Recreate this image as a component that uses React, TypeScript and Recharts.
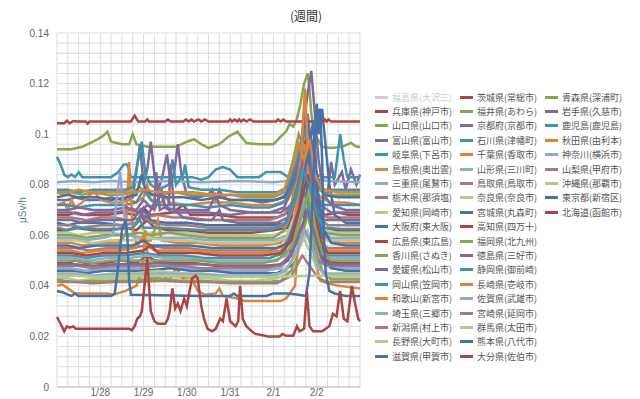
import React from 'react';
import { LineChart, Line, XAxis, YAxis, CartesianGrid } from 'recharts';

// values in 1/1000 μSv/h, x in hours from 1/27 00:00
const prefNames = [
  '福島県(大沢三)', '兵庫県(神戸市)', '山口県(山口市)', '富山県(富山市)', '岐阜県(下呂市)', '島根県(奥出雲)',
  '三重県(尾鷲市)', '栃木県(那須塩)', '愛知県(岡崎市)', '大阪府(東大阪)', '広島県(東広島)', '香川県(さぬき)',
  '愛媛県(松山市)', '岡山県(笠岡市)', '和歌山(新宮市)', '埼玉県(三郷市)', '新潟県(村上市)', '長野県(大町市)',
  '滋賀県(甲賀市)', '茨城県(常総市)', '福井県(あわら)', '京都府(京都市)', '石川県(津幡町)', '千葉県(香取市)',
  '山形県(三川町)', '鳥取県(鳥取市)', '奈良県(奈良市)', '宮城県(丸森町)', '高知県(四万十)', '福岡県(北九州)',
  '徳島県(三好市)', '静岡県(御前崎)', '長崎県(壱岐市)', '佐賀県(武雄市)', '宮崎県(延岡市)', '群馬県(太田市)',
  '熊本県(八代市)', '大分県(佐伯市)', '青森県(深浦町)', '岩手県(久慈市)', '鹿児島(鹿児島)', '秋田県(由利本)',
  '神奈川(横浜市)', '山梨県(甲府市)', '沖縄県(那覇市)', '東京都(新宿区)', '北海道(函館市)',
];

const dayHours = [24, 48, 72, 96, 120, 144];
const dayLabels = ['1/28', '1/29', '1/30', '1/31', '2/1', '2/2'];

const hyogo = [[0,68],[6,68],[10,69],[16,68],[28,68],[36,69],[44,68],[48,71],[52,68],[64,69],[70,72],[74,68],[90,68],[100,67],[112,67],[122,67],[128,69],[133,78],[137,92],[140,84],[144,72],[148,68],[156,69],[162,68],[168,68]];
const yamaguchi = [[0,94],[8,94],[14,95],[20,97],[25,99],[28,101],[30,97],[36,96],[40,96],[42,100],[44,96],[50,95],[60,95],[66,95],[72,97],[76,98],[80,96],[84,94.5],[90,96],[95,99],[100,101],[105,96.5],[112,96],[120,96],[124,99],[127,101],[129,104],[131,103],[133,106],[135,112],[137,120],[139,124],[140,118],[141,108],[143,100],[147,95],[152,94.5],[158,95],[163,96.5],[166,95],[168,95]];
const toyama = [[0,74],[6,74],[10,75],[16,74],[24,74],[30,75],[36,74],[42,75],[44,85],[46,96],[48,80],[50,86],[52,97],[54,84],[56,78],[58,82],[61,92],[63,80],[65,85],[67,96],[69,84],[72,76],[78,75],[84,76],[86,78],[88,74],[90,78],[92,75],[96,74],[106,74],[114,73],[122,74],[127,76],[132,86],[136,98],[139,108],[142,90],[146,78],[150,76],[152,89],[154,80],[158,85],[160,78],[163,86],[166,80],[168,84]];
const gifu = [[0,91],[2,88],[4,84],[6,83],[8,84],[10,83],[12,85],[14,83],[30,83],[34,85],[37,88],[39,88],[41,83],[60,83],[75,83],[80,82],[84,83],[88,86],[92,87],[96,86],[100,83],[112,83],[116,85],[124,85],[128,83],[133,87],[137,95],[140,90],[144,84],[148,83],[154,83],[157,100],[159,90],[161,83],[168,83]];
const shimane = [[0,72],[4,73],[6,70],[8,74],[10,71],[14,73],[18,76],[21,77],[24,74],[30,73],[36,73],[40,74],[44,73],[48,75],[50,80],[52,74],[58,73],[60,76],[62,73],[72,72],[84,73],[96,73],[108,72],[120,72],[128,74],[133,82],[137,102],[139,96],[142,80],[146,75],[152,73],[160,73],[168,72]];
const mie = [[0,81],[10,81.5],[20,81],[30,81.5],[44,81],[60,81.5],[80,81],[100,81.5],[120,81],[128,81.5],[134,88],[138,98],[141,90],[145,82],[150,81.5],[168,81]];
const tochigi = [[0,67],[8,67],[16,66],[24,67],[32,67],[40,66],[48,67],[56,68],[64,67],[72,67],[84,66],[96,66],[108,66],[118,66],[126,68],[132,75],[137,88],[140,80],[144,70],[150,67],[158,67],[168,67]];
const aichi = [[0,61],[6,61],[12,60],[20,61],[30,61],[40,60],[46,63],[50,61],[60,61],[72,61],[84,60],[96,60],[108,60],[120,60],[128,62],[134,72],[138,82],[142,70],[146,62],[156,61],[168,61]];
const osaka = [[0,65],[6,64],[12,65],[24,65],[36,64],[44,65],[48,70],[52,66],[60,65],[72,65],[84,64],[96,64],[108,64],[120,64],[128,65],[134,70],[140,82],[143,100],[145,110],[146,104],[147,110],[149,95],[151,80],[154,68],[160,65],[168,65]];
const hiroshima = [[0,62],[5,62],[10,63],[20,62],[30,62],[38,63],[44,62],[50,66],[54,63],[62,62],[72,62],[84,61],[96,61],[108,61],[120,62],[128,63],[133,76],[136,90],[139,102],[141,88],[144,70],[148,63],[156,62],[168,62]];
const kagawa = [[0,77],[4,76],[8,77],[14,76],[20,77],[28,76],[36,76],[42,77],[46,79],[50,76],[58,76],[66,77],[72,76],[80,76],[88,75],[96,76],[104,75],[112,75],[120,75],[126,77],[131,90],[134,100],[136,96],[138,104],[141,90],[145,78],[150,76],[158,76],[168,76]];
const ehime = [[0,69],[8,69],[14,68],[22,69],[32,69],[40,70],[46,69],[50,72],[54,70],[58,78],[60,71],[64,69],[72,69],[84,69],[96,68],[106,69],[116,69],[124,69],[130,72],[135,84],[139,94],[142,82],[146,72],[152,69],[160,69],[168,69]];
const okayama = [[0,72],[6,72],[12,71],[20,72],[30,72],[38,72],[44,73],[48,78],[52,74],[56,72],[66,72],[74,72],[84,71],[96,72],[108,71],[118,71],[126,73],[132,84],[136,96],[139,88],[143,76],[148,72],[158,72],[168,72]];
const wakayama = [[0,57],[8,57],[14,56],[24,57],[34,57],[38,60],[40,89],[42,62],[44,57],[52,58],[56,66],[58,58],[66,57],[78,57],[90,56],[102,56],[114,56],[124,57],[130,62],[134,76],[137,96],[140,84],[144,64],[150,58],[158,57],[168,57]];
const saitama = [[0,47],[8,47],[16,46],[26,47],[38,47],[48,47],[58,48],[68,47],[80,47],[92,46],[104,46],[116,46],[124,47],[130,52],[135,66],[139,76],[143,62],[147,50],[152,47],[160,47],[168,47]];
const niigata = [[0,55],[10,55],[18,54],[28,55],[40,55],[50,56],[60,55],[72,55],[84,54],[96,54],[108,54],[118,54],[126,56],[132,66],[137,80],[141,70],[145,58],[150,55],[160,55],[168,55]];
const nagano = [[0,43],[6,43],[12,42],[22,43],[34,43],[46,43],[58,44],[70,43],[84,43],[96,42],[110,42],[122,43],[130,46],[135,56],[139,62],[143,52],[147,45],[154,43],[168,43]];
const shiga = [[0,75],[6,76],[12,75],[22,75],[30,74],[38,75],[44,76],[47,84],[49,78],[53,76],[60,75],[70,75],[80,74],[90,75],[96,74],[108,74],[120,74],[126,75],[131,82],[135,94],[138,104],[141,98],[144,84],[148,76],[156,75],[168,75]];
const ibaraki = [[0,104.3],[4,104.3],[5.5,105.3],[7,104.3],[9,105.2],[11,105],[16,105],[17,104.2],[18,105],[41,105],[43,107.3],[45,105],[49,105],[50,105.8],[51,105],[60,105],[61.5,105.8],[63,105],[70,105],[71.5,105.8],[73,105],[74.5,105.8],[76,105],[78.5,105.8],[80,105],[82,105.8],[84,105],[95,105],[96,105.8],[97,105],[98.5,105.8],[100,105],[101,105.8],[102,105],[103.5,105.8],[105,105],[107,105.8],[109,105],[121.5,105],[122.5,105.8],[124,105],[125.5,105.8],[127,105],[147.5,105],[148.5,105.8],[149.5,105],[150.5,105.8],[152,105],[168,105]];
const fukui = [[0,60],[8,60],[16,59],[26,60],[36,60],[46,61],[52,60],[62,61],[72,60],[84,59],[96,59],[108,59],[120,59],[126,62],[130,72],[133,86],[135,80],[137,94],[140,82],[144,66],[148,61],[158,60],[168,60]];
const kyoto = [[0,70],[6,70],[12,71],[20,70],[30,70],[38,71],[44,70],[48,74],[52,71],[58,76],[60,71],[66,70],[74,70],[84,70],[88,76],[90,72],[96,70],[108,69],[118,69],[126,71],[132,82],[136,100],[139,116],[141,125],[143,108],[145,90],[148,76],[152,72],[160,70],[168,70]];
const ishikawa = [[0,78],[6,78],[12,77],[20,78],[30,78],[38,78],[42,79],[44,86],[47,97],[49,84],[52,80],[56,78],[62,80],[64,90],[66,80],[70,84],[71,88],[73,79],[80,78],[90,78],[100,77],[112,77],[122,77],[128,79],[133,90],[137,102],[140,94],[144,82],[148,78],[158,78],[168,78]];
const chiba = [[0,40],[3,40.5],[6,39],[10,37],[28,37],[31,36.5],[38,38],[44,40],[47,46],[49,62],[51,45],[54,42],[58,45],[62,42],[66,47],[70,43],[74,44],[78,38],[82,36.5],[88,37],[90,39],[92,36],[100,35],[104,34],[116,34],[124,34],[127,35],[129,37],[132,40],[134,60],[136,100],[137.5,118],[139,95],[141,70],[143,50],[146,42],[150,41],[156,40],[162,39.5],[168,39]];
const yamagata = [[0,59],[8,59],[16,58],[26,59],[31,60],[33,74],[35,85],[37,70],[39,60],[48,59],[60,59],[72,59],[84,58],[96,58],[108,58],[120,58],[128,60],[134,72],[138,86],[142,74],[146,62],[152,59],[168,59]];
const tottori = [[0,64],[8,64],[14,63],[24,64],[36,64],[44,65],[48,68],[52,65],[62,64],[72,64],[84,63],[96,63],[108,63],[120,63],[128,65],[133,76],[137,88],[140,82],[144,68],[150,64],[160,64],[168,64]];
const nara = [[0,58],[10,58],[20,57],[30,58],[42,58],[50,59],[60,58],[72,58],[84,57],[96,57],[108,57],[120,57],[127,59],[133,70],[137,80],[141,72],[145,60],[150,58],[168,58]];
const miyagi = [[0,46],[8,46],[16,45],[26,46],[38,46],[50,46],[62,47],[74,46],[86,46],[98,45],[110,45],[122,45],[130,48],[136,60],[139,80],[141,100],[142,105],[143,95],[145,70],[148,52],[152,47],[160,46],[168,46]];
const kochi = [[0,49],[6,49],[10,50],[16,49],[26,49],[36,50],[44,49],[50,52],[54,50],[64,49],[76,49],[88,48],[100,48],[112,48],[122,48],[128,50],[133,62],[137,76],[140,70],[144,56],[148,50],[156,49],[168,49]];
const fukuoka = [[0,42.5],[4,42],[10,41.5],[20,42],[32,42],[44,42],[56,43],[68,42],[80,42],[92,41.5],[104,41.5],[116,41.5],[124,42],[130,46],[135,58],[139,68],[143,56],[147,46],[152,42.5],[168,42.5]];
const tokushima = [[0,66],[8,66],[14,65],[24,66],[34,66],[42,66],[46,70],[48,66],[54,72],[55,85],[57,70],[62,72],[63,88],[65,70],[70,67],[78,66],[86,66],[90,70],[92,66],[100,65],[112,65],[122,65],[128,67],[133,78],[137,92],[140,86],[143,72],[148,66],[158,66],[168,66]];
const shizuoka = [[0,52],[8,52],[16,51],[26,52],[38,52],[48,53],[58,52],[70,52],[82,51],[94,51],[106,51],[118,51],[126,53],[132,64],[136,78],[140,70],[144,58],[148,52],[158,52],[168,52]];
const nagasaki = [[0,54],[8,54],[14,53],[24,54],[34,54],[44,55],[48,60],[50,56],[54,54],[66,54],[78,54],[90,53],[102,53],[114,53],[124,54],[130,60],[135,78],[138,90],[141,78],[145,60],[150,54],[168,54]];
const saga = [[0,51],[10,51],[18,50],[28,51],[40,51],[50,52],[60,51],[72,51],[84,50],[96,50],[108,50],[120,50],[127,52],[133,62],[137,74],[141,66],[145,54],[150,51],[168,51]];
const miyazaki = [[0,48],[10,48],[20,47],[32,48],[44,48],[56,48],[68,48],[80,47],[92,47],[104,47],[116,47],[124,48],[131,54],[136,64],[140,58],[144,50],[150,48],[168,48]];
const gunma = [[0,45],[10,45],[20,44],[32,45],[44,45],[56,46],[68,45],[80,45],[92,44],[104,44],[116,44],[124,45],[131,50],[136,60],[140,54],[144,47],[150,45],[168,45]];
const kumamoto = [[0,56],[6,56],[12,55],[22,56],[32,56],[42,56],[48,58],[52,56],[62,56],[74,56],[86,55],[98,55],[110,55],[122,55],[128,57],[134,70],[138,88],[141,96],[144,80],[148,62],[152,57],[160,56],[168,56]];
const oita = [[0,53],[8,53],[16,52],[26,53],[38,53],[48,54],[52,56],[56,53],[66,53],[78,53],[90,52],[102,52],[114,52],[124,53],[130,58],[135,72],[139,84],[142,74],[146,58],[150,53],[168,53]];
const aomori = [[0,50],[10,50],[20,49],[30,50],[42,50],[54,50],[66,50],[78,50],[90,49],[102,49],[114,49],[122,50],[130,55],[135,66],[139,76],[143,64],[147,53],[152,50],[168,50]];
const iwate = [[0,48.5],[10,48.5],[20,48],[32,48.5],[44,48.5],[56,49],[68,48.5],[80,48.5],[92,48],[104,48],[116,48],[124,48.5],[130,52],[135,62],[139,70],[143,60],[147,50],[152,48.5],[168,48.5]];
const kagoshima = [[0,63],[6,62],[12,63],[22,62.5],[32,62.5],[42,63],[46,66],[48,63],[58,63],[70,62.5],[82,62],[94,62],[106,62],[118,62],[126,64],[132,74],[136,86],[140,80],[144,68],[148,63],[158,62.5],[168,62.5]];
const akita = [[0,77],[6,77],[12,78],[20,77],[30,77],[38,77],[44,77],[48,78],[56,77],[66,77],[76,77],[86,76],[96,76],[108,76],[120,76],[126,78],[131,88],[134,96],[137,90],[140,98],[143,84],[147,78],[156,77],[168,77]];
const kanagawa = [[0,44.5],[10,44.5],[20,44],[30,44.5],[44,44.5],[58,45],[70,44.5],[84,44.5],[96,44],[108,44],[120,44],[127,46],[133,54],[137,62],[141,56],[145,47],[150,44.5],[168,44.5]];
const yamanashi = [[0,41.5],[10,41.5],[20,41],[32,41.5],[46,41.5],[58,42],[70,41.5],[84,41.5],[96,41],[110,41],[122,41],[130,44],[136,52],[140,48],[145,43],[150,41.5],[168,41.5]];
const okinawa = [[0,44],[10,44],[22,43.5],[34,44],[46,44],[58,44],[70,44],[84,43.5],[96,43.5],[108,43.5],[120,43.5],[140,44],[150,44],[168,44]];
const tokyo = [[0,38],[3,37.5],[6,36.5],[8,36],[10,37],[12,36],[30,36],[32,37],[34,48],[36,62],[38,66],[39,60],[40,42],[41,36.5],[80,36],[96,36],[98,37],[100,36],[116,36],[120,37],[128,37],[134,36.5],[138,36],[140,45],[142,80],[144,112],[145,100],[146,110],[147,90],[148,60],[149,45],[151,38],[154,37],[160,36],[168,36]];
const hokkaido = [[0,27.7],[2,25],[4,22],[5.5,24],[7,23.5],[9,24],[10.5,23],[40,23],[41.5,22.5],[43,24],[44.5,27],[46,28],[47,30],[48.5,40],[50,51],[51,40],[52,30],[54,26],[56,25],[60,25],[61.5,27],[62.5,30],[64,39],[65.5,31],[67,33],[68.5,30],[70.5,35],[72,32],[73.5,38],[75,43],[77,44],[78,43],[80,32],[81.5,27],[83.5,23],[86,22],[88,23],[90.5,27],[92,26],[94,35],[96,26],[97.5,25],[99,24],[100.5,26],[101.5,40],[103,27],[105,24],[108,22],[110,21],[114,20.5],[117,20],[123.5,20],[125,21],[127,20.3],[131,20.3],[133,24],[134.5,22],[137,23],[138.5,38],[140,24],[142,22],[147,22],[149,23],[151,24],[153,29],[155,28],[157,38],[159,27],[161,26],[163.5,40],[165,34],[167,27],[168,26]];

const seriesValues = [
  null, hyogo, yamaguchi, toyama, gifu, shimane, mie, tochigi, aichi, osaka, hiroshima, kagawa,
  ehime, okayama, wakayama, saitama, niigata, nagano, shiga, ibaraki, fukui, kyoto, ishikawa, chiba,
  yamagata, tottori, nara, miyagi, kochi, fukuoka, tokushima, shizuoka, nagasaki, saga, miyazaki, gunma,
  kumamoto, oita, aomori, iwate, kagoshima, akita, kanagawa, yamanashi, okinawa, tokyo, hokkaido,
];

const palette = ['#4572A7', '#AA4643', '#89A54E', '#80699B', '#3D96AE', '#DB843D', '#92A8CD', '#A47D7C', '#B5CA92'];

const hourTicks = Array.from({ length: 29 }, (_, i) => i * 6);
const yTicks = Array.from({ length: 36 }, (_, i) => +(i * 0.004).toFixed(3));

const fmtY = (v: number) => (Math.abs(v * 50 - Math.round(v * 50)) < 1e-6 ? String(+v.toFixed(2)) : '');
const fmtX = (h: number) => {
  const i = dayHours.indexOf(h);
  return i >= 0 ? dayLabels[i] : '';
};

const FONT = '"Liberation Sans", Arial, "Noto Sans CJK JP", sans-serif';

const LegendBox = () => (
  <div
    style={{
      position: 'absolute',
      left: 375,
      top: 90,
      display: 'grid',
      gridTemplateColumns: '85px 85px 85px',
      gridTemplateRows: 'repeat(19, 14.4px)',
      gridAutoFlow: 'column',
      fontSize: 9,
      fontFamily: '"Noto Sans CJK JP", sans-serif',
    }}
  >
    {prefNames.map((name, i) => {
      const hidden = seriesValues[i] === null;
      const c = hidden ? '#cccccc' : palette[i % palette.length];
      return (
        <div key={name} style={{ display: 'flex', alignItems: 'center', whiteSpace: 'nowrap', color: hidden ? '#cccccc' : '#555555' }}>
          <span style={{ display: 'inline-block', width: 13, height: 3, background: c, marginRight: 4 }} />
          {name}
        </div>
      );
    })}
  </div>
);

export default function App() {
  return (
    <div style={{ position: 'absolute', left: 0, top: 0, width: 640, height: 399, background: '#fff', fontFamily: FONT }}>
      <div style={{ position: 'absolute', left: 276, top: 7, width: 60, textAlign: 'center', fontSize: 12, color: '#333', fontFamily: '"Noto Sans CJK JP", sans-serif' }}>
        (週間)
      </div>
      <div
        style={{
          position: 'absolute',
          left: 22,
          top: 210,
          transform: 'translate(-50%, -50%) rotate(-90deg)',
          fontSize: 10,
          color: '#5f7a96',
          whiteSpace: 'nowrap',
        }}
      >
        μSv/h
      </div>
      <LineChart width={640} height={399} margin={{ top: 33, right: 280, bottom: 0, left: 0 }}>
        <CartesianGrid stroke="#dcdcdc" strokeWidth={1} />
        <XAxis
          type="number"
          dataKey="h"
          domain={[0, 168]}
          ticks={hourTicks}
          interval={0}
          tickFormatter={fmtX}
          tickLine={false}
          tickSize={0}
          tickMargin={2}
          height={12}
          axisLine={{ stroke: '#c0c0c0' }}
          tick={{ fontSize: 10, fill: '#666' }}
        />
        <YAxis
          type="number"
          domain={[0, 0.14]}
          ticks={yTicks}
          interval={0}
          tickFormatter={fmtY}
          tickLine={false}
          axisLine={false}
          tickSize={0}
          tickMargin={8}
          width={57}
          tick={{ fontSize: 10, fill: '#666' }}
        />
        {seriesValues.map((pts, i) =>
          pts ? (
            <Line
              key={prefNames[i]}
              name={prefNames[i]}
              data={pts.map(([h, v]) => ({ h, v: v / 1000 }))}
              dataKey="v"
              type="linear"
              stroke={palette[i % palette.length]}
              strokeWidth={2.5}
              dot={false}
              activeDot={false}
              isAnimationActive={false}
            />
          ) : null
        )}
      </LineChart>
      <LegendBox />
    </div>
  );
}
